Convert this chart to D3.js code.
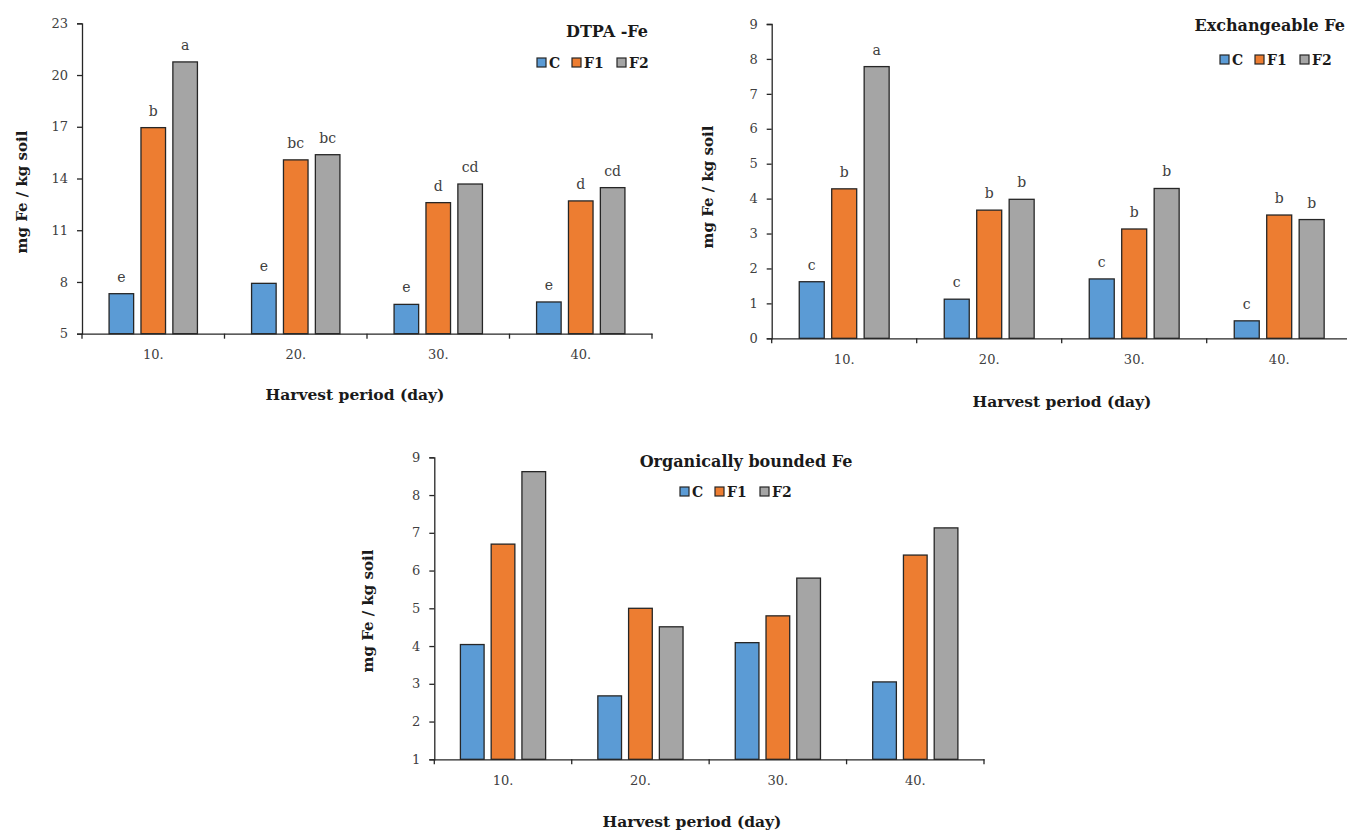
<!DOCTYPE html>
<html>
<head>
<meta charset="utf-8">
<script src="https://cdn.jsdelivr.net/npm/d3@7"></script>
<style>
  body { margin: 0; background: #fff; }
  svg { display: block; font-family: "DejaVu Serif", "Liberation Serif", serif; }
  .tick text { fill: #404040; font-size: 13px; font-family: "DejaVu Serif", "Liberation Serif", serif; }
  .ttl { font-weight: bold; fill: #1a1a1a; }
  .lbl { fill: #404040; font-size: 14px; }
</style>
</head>
<body>
<svg id="chart" width="1347" height="832"></svg>
<script>
const periods = ['10.', '20.', '30.', '40.'];
const series = ['C', 'F1', 'F2'];
const colors = ['#5B9BD5', '#ED7D31', '#A5A5A5'];

// DTPA -Fe
const dtpaC = [7.32, 7.92, 6.70, 6.84];
const dtpaF1 = [16.95, 15.08, 12.60, 12.70];
const dtpaF2 = [20.76, 15.38, 13.68, 13.47];
const dtpaLetters = [['e', 'e', 'e', 'e'], ['b', 'bc', 'd', 'd'], ['a', 'bc', 'cd', 'cd']];
const dtpaTicks = [5, 8, 11, 14, 17, 20, 23];

// Exchangeable Fe
const exchC = [1.62, 1.12, 1.70, 0.50];
const exchF1 = [4.28, 3.67, 3.13, 3.53];
const exchF2 = [7.78, 3.98, 4.29, 3.40];
const exchLetters = [['c', 'c', 'c', 'c'], ['b', 'b', 'b', 'b'], ['a', 'b', 'b', 'b']];
const exchTicks = [0, 1, 2, 3, 4, 5, 6, 7, 8, 9];

// Organically bounded Fe
const orgC = [4.04, 2.68, 4.09, 3.05];
const orgF1 = [6.70, 5.00, 4.80, 6.41];
const orgF2 = [8.62, 4.51, 5.80, 7.13];
const orgTicks = [1, 2, 3, 4, 5, 6, 7, 8, 9];

const svg = d3.select('#chart');

function drawPanel(p) {
  const g = svg.append('g');
  const x0 = d3.scaleBand().domain(periods).range([p.x0, p.x1]).padding(0);
  const bw = x0.bandwidth();
  const x1 = d3.scaleBand().domain(series)
    .range([bw * 0.19, bw * 0.81]).paddingInner(0.23).paddingOuter(0);
  const y = d3.scaleLinear().domain(p.domain).range([p.y1, p.y0]);

  // bars
  p.values.forEach((vals, si) => {
    g.append('g').selectAll('rect').data(vals).join('rect')
      .attr('x', (d, i) => x0(periods[i]) + x1(series[si]))
      .attr('y', (d) => y(d))
      .attr('width', x1.bandwidth())
      .attr('height', (d) => y(p.domain[0]) - y(d))
      .attr('fill', colors[si])
      .attr('stroke', '#262626')
      .attr('stroke-width', 1.3);
    if (p.letters) {
      g.append('g').selectAll('text').data(vals).join('text')
        .attr('class', 'lbl')
        .attr('x', (d, i) => x0(periods[i]) + x1(series[si]) + x1.bandwidth() / 2)
        .attr('y', (d) => y(d) - 12)
        .attr('text-anchor', 'middle')
        .text((d, i) => p.letters[si][i]);
    }
  });

  // y axis
  const ya = g.append('g').attr('transform', `translate(${p.x0},0)`)
    .call(d3.axisLeft(y).tickValues(p.ticks).tickSize(5).tickPadding(9).tickFormat(d3.format('d')));
  ya.select('.domain').attr('stroke', '#262626').attr('stroke-width', 1.3);
  ya.selectAll('.tick line').attr('stroke', '#262626').attr('stroke-width', 1.3);

  // x axis
  const xa = g.append('g').attr('transform', `translate(0,${p.y1})`)
    .call(d3.axisBottom(x0).tickSize(0).tickPadding(16));
  xa.select('.domain').attr('stroke', '#262626').attr('stroke-width', 1.3);
  const bounds = periods.map((c) => x0(c)).concat([p.x1]);
  xa.append('g').selectAll('line').data(bounds).join('line')
    .attr('x1', (d) => d).attr('x2', (d) => d)
    .attr('y1', 0).attr('y2', 5)
    .attr('stroke', '#262626').attr('stroke-width', 1.3);

  // axis titles
  g.append('text').attr('class', 'ttl')
    .attr('transform', `translate(${p.yTitle[0]},${p.yTitle[1]}) rotate(-90)`)
    .attr('text-anchor', 'middle').attr('dy', '0.35em')
    .style('font-size', '15px')
    .text('mg Fe / kg soil');
  g.append('text').attr('class', 'ttl')
    .attr('x', p.xTitle[0]).attr('y', p.xTitle[1])
    .attr('text-anchor', 'middle').attr('dy', '0.35em')
    .style('font-size', '15.5px')
    .text('Harvest period (day)');

  // chart title
  g.append('text').attr('class', 'ttl')
    .attr('x', p.title[0]).attr('y', p.title[1])
    .attr('text-anchor', p.titleAnchor).attr('dy', '0.35em')
    .style('font-size', '16px')
    .text(p.name);

  // legend
  const lg = g.append('g').attr('transform', `translate(${p.legend[0]},${p.legend[1]})`);
  const offs = [0, 35, 80];
  series.forEach((s, i) => {
    lg.append('rect').attr('x', offs[i]).attr('y', -5).attr('width', 9).attr('height', 9)
      .attr('fill', colors[i]).attr('stroke', '#262626').attr('stroke-width', 1.2);
    lg.append('text').attr('class', 'ttl').attr('x', offs[i] + 12).attr('y', 0)
      .attr('dy', '0.35em').style('font-size', '14px').text(s);
  });
}

drawPanel({
  name: 'DTPA -Fe', x0: 82, x1: 652, y0: 23.3, y1: 333.7,
  domain: [5, 23], ticks: dtpaTicks,
  values: [dtpaC, dtpaF1, dtpaF2], letters: dtpaLetters,
  title: [648, 31], titleAnchor: 'end', legend: [537, 63],
  yTitle: [22, 192], xTitle: [355, 395]
});

drawPanel({
  name: 'Exchangeable Fe', x0: 771.7, x1: 1351.7, y0: 24, y1: 338.3,
  domain: [0, 9], ticks: exchTicks,
  values: [exchC, exchF1, exchF2], letters: exchLetters,
  title: [1345, 25], titleAnchor: 'end', legend: [1220, 60],
  yTitle: [708, 187], xTitle: [1062, 402]
});

drawPanel({
  name: 'Organically bounded Fe', x0: 434.3, x1: 984, y0: 457.3, y1: 759.3,
  domain: [1, 9], ticks: orgTicks,
  values: [orgC, orgF1, orgF2], letters: null,
  title: [746, 461], titleAnchor: 'middle', legend: [680, 492],
  yTitle: [368, 611], xTitle: [692, 822]
});
</script>
</body>
</html>
